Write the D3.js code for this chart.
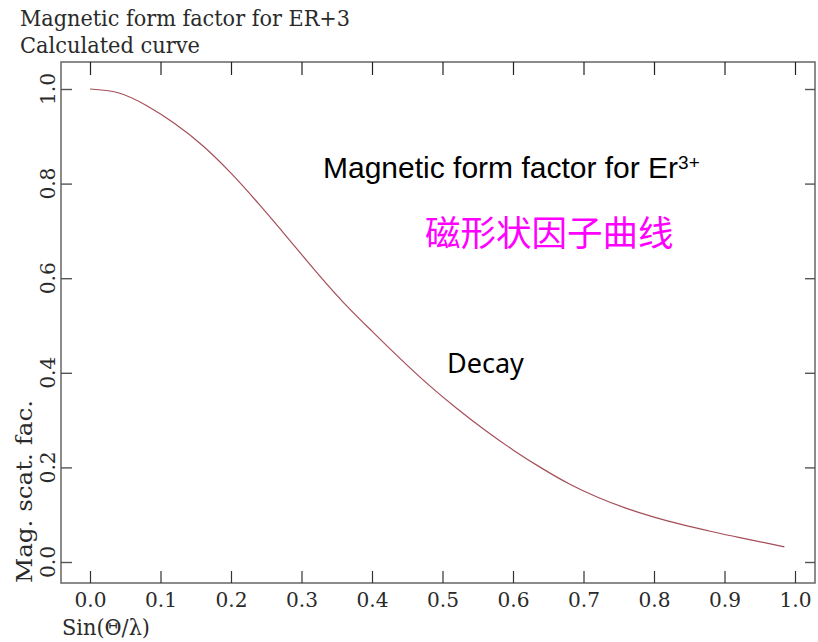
<!DOCTYPE html>
<html>
<head>
<meta charset="utf-8">
<script src="https://cdn.jsdelivr.net/npm/d3@7"></script>
<style>
  html, body { margin: 0; padding: 0; background: #fff; }
  svg { display: block; }
  .plotfont { font-family: "DejaVu Serif", "Liberation Serif", serif; font-stretch: condensed; fill: #2a2a2a; }
</style>
</head>
<body>
<svg id="chart" width="818" height="642"></svg>
<script>
// ---- data ----
const titleLines = ["Magnetic form factor for ER+3", "Calculated curve"];
const xLabel = "Sin(\u0398/\u03bb)";
const yLabel = "Mag. scat. fac.";
const xTicks = [0.0, 0.1, 0.2, 0.3, 0.4, 0.5, 0.6, 0.7, 0.8, 0.9, 1.0];
const yTicks = [0.0, 0.2, 0.4, 0.6, 0.8, 1.0];
const sinThetaOverLambda = [0.00, 0.04, 0.08, 0.12, 0.16, 0.20, 0.24, 0.28, 0.32, 0.36, 0.40, 0.44, 0.48, 0.52, 0.56, 0.60, 0.64, 0.68, 0.72, 0.76, 0.80, 0.84, 0.88, 0.92, 0.96, 0.985];
const magScatFac = [1.000, 0.992, 0.965, 0.927, 0.880, 0.822, 0.756, 0.686, 0.615, 0.548, 0.488, 0.430, 0.375, 0.325, 0.279, 0.237, 0.199, 0.165, 0.137, 0.114, 0.095, 0.079, 0.065, 0.052, 0.040, 0.032];
const annotEn = "Magnetic form factor for Er";
const annotSup = "3+";
const annotZh = "磁形状因子曲线";
const annotDecay = "Decay";

// ---- layout ----
const svg = d3.select("#chart");
const frame = { left: 61, right: 815, top: 62, bottom: 583 };
const x = d3.scaleLinear().domain([0, 1]).range([90, 795]);
const y = d3.scaleLinear().domain([0, 1]).range([562, 89]);

// frame
svg.append("rect")
  .attr("x", frame.left).attr("y", frame.top)
  .attr("width", frame.right - frame.left).attr("height", frame.bottom - frame.top)
  .attr("fill", "none").attr("stroke", "#6e6e6e").attr("stroke-width", 1.6);

// bottom axis (ticks pointing inward)
const xAxisG = svg.append("g").attr("transform", `translate(0,${frame.bottom})`)
  .call(d3.axisBottom(x).tickValues(xTicks).tickSizeInner(-12).tickSizeOuter(0)
    .tickPadding(9).tickFormat(d3.format(".1f")));
xAxisG.select(".domain").remove();
xAxisG.selectAll(".tick line").attr("stroke", "#333").attr("stroke-width", 1.2);
xAxisG.selectAll(".tick text").attr("class", "plotfont").attr("font-size", 21)
  .attr("fill", "#2a2a2a").attr("textLength", 32).attr("lengthAdjust", "spacingAndGlyphs");

// top axis ticks
const xTopG = svg.append("g").attr("transform", `translate(0,${frame.top})`)
  .call(d3.axisTop(x).tickValues(xTicks).tickSizeInner(-13).tickSizeOuter(0).tickFormat(""));
xTopG.select(".domain").remove();
xTopG.selectAll(".tick line").attr("stroke", "#222").attr("stroke-width", 1.2);

// left axis ticks
const yLeftG = svg.append("g").attr("transform", `translate(${frame.left},0)`)
  .call(d3.axisLeft(y).tickValues(yTicks).tickSizeInner(-11).tickSizeOuter(0).tickFormat(""));
yLeftG.select(".domain").remove();
yLeftG.selectAll(".tick line").attr("stroke", "#555").attr("stroke-width", 1.4);

// right axis ticks
const yRightG = svg.append("g").attr("transform", `translate(${frame.right},0)`)
  .call(d3.axisRight(y).tickValues(yTicks).tickSizeInner(-10).tickSizeOuter(0).tickFormat(""));
yRightG.select(".domain").remove();
yRightG.selectAll(".tick line").attr("stroke", "#555").attr("stroke-width", 1.4);

// y tick labels (rotated)
svg.append("g").selectAll("text").data(yTicks).join("text")
  .attr("class", "plotfont").attr("font-size", 21)
  .attr("text-anchor", "middle")
  .attr("transform", d => `translate(55,${y(d)}) rotate(-90)`)
  .attr("textLength", 32).attr("lengthAdjust", "spacingAndGlyphs")
  .text(d3.format(".1f"));

// titles
svg.append("text").attr("class", "plotfont").attr("font-size", 23)
  .attr("x", 20).attr("y", 26).attr("textLength", 330).attr("lengthAdjust", "spacingAndGlyphs")
  .text(titleLines[0]);
svg.append("text").attr("class", "plotfont").attr("font-size", 23)
  .attr("x", 20).attr("y", 53).attr("textLength", 180).attr("lengthAdjust", "spacingAndGlyphs")
  .text(titleLines[1]);

// axis titles
svg.append("text").attr("class", "plotfont").attr("font-size", 22)
  .attr("x", 62).attr("y", 635).attr("textLength", 88).attr("lengthAdjust", "spacingAndGlyphs")
  .text(xLabel);
svg.append("text").attr("class", "plotfont").attr("font-size", 22)
  .attr("transform", `translate(32,583) rotate(-90)`)
  .attr("textLength", 183).attr("lengthAdjust", "spacingAndGlyphs")
  .text(yLabel);

// curve
const pts = sinThetaOverLambda.map((v, i) => [v, magScatFac[i]]);
svg.append("path").datum(pts)
  .attr("fill", "none").attr("stroke", "#a54e58").attr("stroke-width", 1.2)
  .attr("d", d3.line().x(d => x(d[0])).y(d => y(d[1])).curve(d3.curveNatural));

// annotations
const en = svg.append("text").attr("x", 323).attr("y", 178)
  .attr("font-family", "Liberation Sans, Arial, sans-serif").attr("font-size", 30).attr("fill", "#000");
en.append("tspan").text(annotEn);
en.append("tspan").attr("font-size", 19).attr("dy", -9).text(annotSup);

svg.append("text").attr("x", 425).attr("y", 246)
  .attr("font-family", "Noto Sans CJK SC, sans-serif").attr("font-size", 35.5).attr("fill", "#ff00ff")
  .text(annotZh);

svg.append("text").attr("x", 447).attr("y", 373)
  .attr("font-family", "Noto Sans, Open Sans, sans-serif").attr("font-size", 27).attr("fill", "#000")
  .text(annotDecay);
</script>
</body>
</html>
